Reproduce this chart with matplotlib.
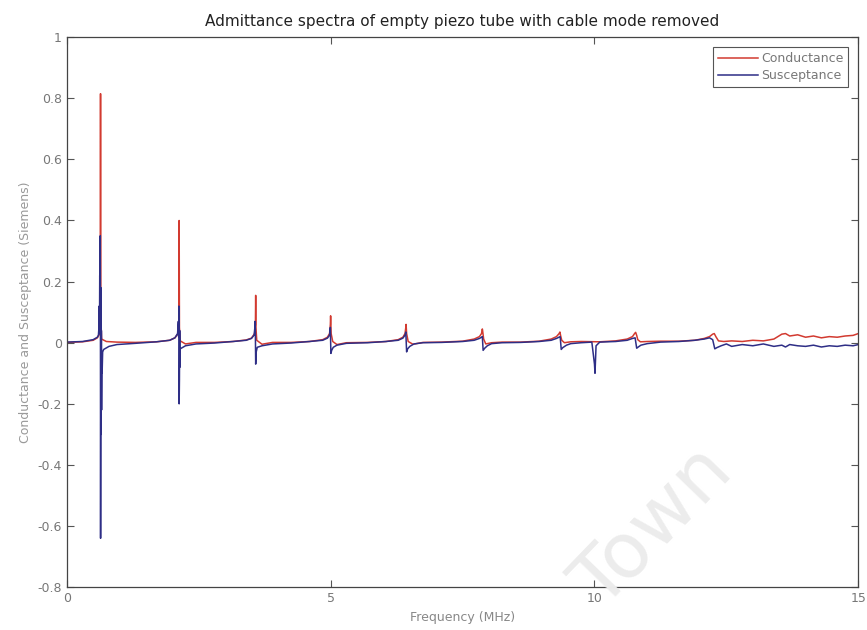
import matplotlib
matplotlib.use("Agg")
from matplotlib import pyplot as plt

# Conductance (red): frequency in MHz, value in Siemens
freq_g = [0.00, 0.30, 0.50, 0.58, 0.62, 0.635, 0.64, 0.645, 0.66, 0.75, 0.95, 1.30,
          1.70, 1.95, 2.05, 2.11, 2.125, 2.13, 2.135, 2.15, 2.25, 2.45, 2.80,
          3.15, 3.40, 3.50, 3.56, 3.575, 3.58, 3.585, 3.60, 3.70, 3.90, 4.25,
          4.60, 4.85, 4.94, 4.98, 4.995, 5.00, 5.01, 5.04, 5.12, 5.30, 5.70,
          6.05, 6.28, 6.37, 6.41, 6.425, 6.43, 6.44, 6.47, 6.56, 6.75, 7.10,
          7.50, 7.72, 7.82, 7.86, 7.875, 7.88, 7.90, 7.94, 8.05, 8.25, 8.60,
          8.95, 9.18, 9.28, 9.33, 9.345, 9.36, 9.38, 9.43, 9.55, 9.75, 10.10,
          10.40, 10.62, 10.72, 10.76, 10.78, 10.80, 10.82, 10.87, 11.00, 11.25, 11.60,
          11.90, 12.08, 12.18, 12.24, 12.27, 12.30, 12.35, 12.45, 12.60, 12.80, 13.00,
          13.20, 13.40, 13.55, 13.62, 13.70, 13.85, 14.00, 14.15, 14.30, 14.45, 14.60,
          14.75, 14.90, 15.00]
cond = [0.001, 0.003, 0.008, 0.016, 0.028, 0.10, 0.815, 0.09, 0.012, 0.004, 0.002, 0.001,
        0.003, 0.008, 0.016, 0.03, 0.08, 0.40, 0.05, 0.006, -0.004, 0.001, 0.001,
        0.004, 0.009, 0.015, 0.03, 0.06, 0.155, 0.05, 0.008, -0.005, 0.001, 0.001,
        0.004, 0.010, 0.018, 0.03, 0.06, 0.088, 0.03, 0.004, -0.006, 0.000, 0.001,
        0.004, 0.010, 0.018, 0.03, 0.05, 0.060, 0.03, 0.004, -0.005, 0.001, 0.002,
        0.005, 0.012, 0.020, 0.03, 0.045, 0.040, 0.012, -0.004, 0.000, 0.002, 0.002,
        0.005, 0.012, 0.020, 0.030, 0.035, 0.022, 0.008, 0.000, 0.003, 0.004, 0.003,
        0.006, 0.012, 0.020, 0.030, 0.034, 0.024, 0.010, 0.003, 0.004, 0.005, 0.005,
        0.008, 0.014, 0.020, 0.028, 0.030, 0.020, 0.006, 0.004, 0.006, 0.004, 0.008,
        0.006, 0.012, 0.028, 0.030, 0.022, 0.026, 0.018, 0.022, 0.016, 0.020, 0.018,
        0.022, 0.024, 0.030]

# Susceptance (blue)
freq_b = [0.00, 0.30, 0.50, 0.58, 0.60, 0.61, 0.615, 0.62, 0.625, 0.63, 0.635, 0.638,
          0.641, 0.644, 0.648, 0.652, 0.656, 0.66, 0.665, 0.67, 0.68, 0.70, 0.80, 0.95, 1.30,
          1.70, 1.95, 2.05, 2.10, 2.115, 2.12, 2.125, 2.13, 2.135, 2.14, 2.145, 2.15,
          2.17, 2.25, 2.45, 2.80,
          3.15, 3.40, 3.50, 3.55, 3.565, 3.57, 3.575, 3.58, 3.59, 3.61, 3.70, 3.90, 4.25,
          4.60, 4.85, 4.94, 4.98, 4.995, 5.005, 5.02, 5.05, 5.12, 5.30, 5.70,
          6.05, 6.28, 6.37, 6.41, 6.425, 6.44, 6.46, 6.50, 6.58, 6.75, 7.10,
          7.50, 7.72, 7.82, 7.86, 7.875, 7.89, 7.92, 7.97, 8.05, 8.25, 8.60,
          8.95, 9.18, 9.28, 9.33, 9.35, 9.37, 9.40, 9.47, 9.55, 9.75, 9.95,
          10.00, 10.01, 10.03, 10.10, 10.40, 10.62, 10.72, 10.77, 10.80, 10.83, 10.88, 11.00,
          11.25, 11.60, 11.90, 12.08, 12.18, 12.24, 12.28, 12.32, 12.40, 12.50, 12.60,
          12.80, 13.00, 13.20, 13.40, 13.55, 13.62, 13.70, 13.85, 14.00, 14.15, 14.30,
          14.45, 14.60, 14.75, 14.90, 15.00]
susc = [0.002, 0.004, 0.010, 0.018, 0.025, 0.05, 0.12, 0.03, 0.22, 0.06, 0.35, 0.10,
        -0.64, -0.36, 0.18, -0.30, 0.04, -0.22, -0.05, -0.10, -0.03, -0.022, -0.012, -0.006, -0.002,
        0.003, 0.008, 0.016, 0.03, 0.07, 0.02, 0.12, -0.20, -0.12, 0.04, -0.08, -0.02,
        -0.018, -0.010, -0.004, -0.001,
        0.004, 0.008, 0.014, 0.025, 0.05, 0.07, 0.02, -0.07, -0.03, -0.015, -0.010, -0.004, -0.001,
        0.004, 0.008, 0.015, 0.025, 0.050, -0.035, -0.025, -0.015, -0.008, -0.002, 0.000,
        0.004, 0.008, 0.015, 0.025, 0.035, -0.030, -0.020, -0.012, -0.004, 0.000, 0.001,
        0.004, 0.008, 0.014, 0.018, 0.020, -0.025, -0.018, -0.010, -0.003, 0.000, 0.001,
        0.004, 0.008, 0.014, 0.018, 0.020, -0.022, -0.016, -0.008, -0.003, 0.000, 0.002,
        -0.07, -0.10, -0.01, 0.002, 0.004, 0.008, 0.014, 0.016, -0.018, -0.014, -0.008, -0.003,
        0.002, 0.004, 0.008, 0.012, 0.016, 0.010, -0.020, -0.016, -0.010, -0.004, -0.012,
        -0.006, -0.010, -0.004, -0.012, -0.008, -0.014, -0.006, -0.010, -0.012, -0.008, -0.014,
        -0.010, -0.012, -0.008, -0.010, -0.006]

fig = plt.figure(figsize=(8.67, 6.3), dpi=100)
ax = fig.add_axes([0.077, 0.068, 0.913, 0.873])

# faint scan watermark, behind the plot
fig.text(0.695, 0.03, "Town", fontsize=55, color="#ececec", rotation=46,
         ha="left", va="baseline", rotation_mode="anchor", zorder=0)
ax.patch.set_alpha(0)

ax.plot(freq_g, cond, color="#d23a30", linewidth=1.1, label="Conductance")
ax.plot(freq_b, susc, color="#2e2e86", linewidth=1.1, label="Susceptance")

ax.set_xlim(0, 15)
ax.set_ylim(-0.8, 1)
ax.set_xticks([0, 5, 10, 15])
ax.set_yticks([-0.8, -0.6, -0.4, -0.2, 0, 0.2, 0.4, 0.6, 0.8, 1])
ax.set_yticklabels(["-0.8", "-0.6", "-0.4", "-0.2", "0", "0.2", "0.4", "0.6", "0.8", "1"])
ax.tick_params(direction="in", top=True, right=True, length=5, width=0.8,
               labelsize=9, labelcolor="#777777", color="#555555")
for s in ax.spines.values():
    s.set_color("#444444")
    s.set_linewidth(0.9)

ax.set_title("Admittance spectra of empty piezo tube with cable mode removed",
             fontsize=11, color="#222222", pad=8)
ax.set_xlabel("Frequency (MHz)", fontsize=9, color="#888888", labelpad=4)
ax.set_ylabel("Conductance and Susceptance (Siemens)", fontsize=9, color="#999999", labelpad=4)

leg = ax.legend(loc="upper right", fontsize=9, handlelength=3.2, fancybox=False,
                framealpha=1, borderaxespad=0.8, handletextpad=0.2, labelspacing=0.3)
leg.get_frame().set_edgecolor("#555555")
leg.get_frame().set_linewidth(0.8)
for t in leg.get_texts():
    t.set_color("#777777")

fig.savefig("out.png", dpi=100)
